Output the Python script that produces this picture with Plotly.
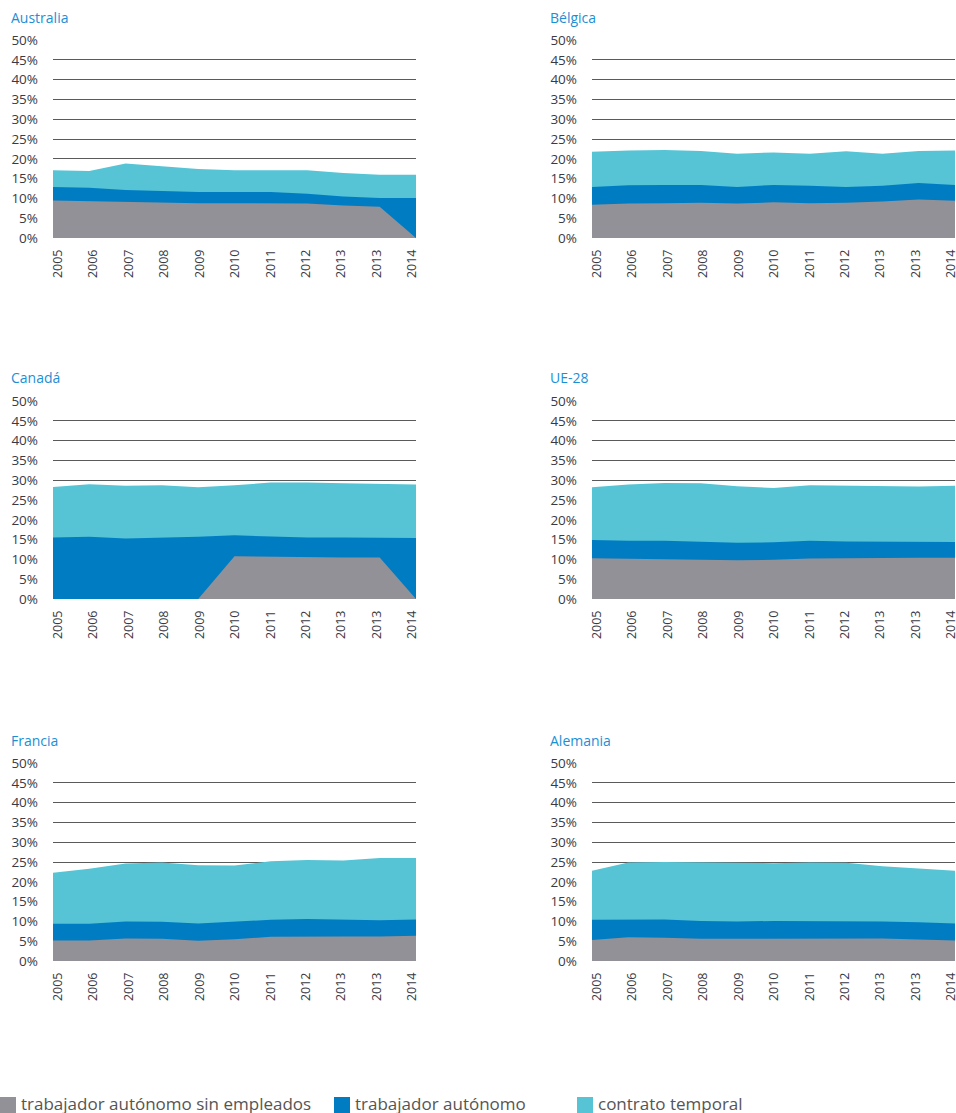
import plotly.graph_objects as go

# categories (the source repeats 2013)
years = ["2005", "2006", "2007", "2008", "2009", "2010", "2011", "2012", "2013", "2013", "2014"]
y_ticks = [0, 5, 10, 15, 20, 25, 30, 35, 40, 45, 50]
y_tick_labels = ["0%", "5%", "10%", "15%", "20%", "25%", "30%", "35%", "40%", "45%", "50%"]

countries = ["Australia", "Bélgica", "Canadá", "UE-28", "Francia", "Alemania"]

# top of each band, in %
temporal = {
    "Australia": [17.1, 16.9, 18.8, 18.1, 17.4, 17.1, 17.1, 17.1, 16.4, 16.0, 16.0],
    "Bélgica":   [21.8, 22.1, 22.2, 22.0, 21.3, 21.6, 21.3, 21.9, 21.3, 22.0, 22.1],
    "Canadá":    [28.3, 29.0, 28.6, 28.7, 28.2, 28.7, 29.4, 29.4, 29.2, 29.0, 28.9],
    "UE-28":     [28.2, 28.9, 29.3, 29.2, 28.5, 28.0, 28.7, 28.6, 28.4, 28.4, 28.6],
    "Francia":   [22.3, 23.3, 24.6, 24.9, 24.2, 24.1, 25.2, 25.5, 25.4, 26.0, 26.0],
    "Alemania":  [22.8, 24.9, 25.0, 24.9, 24.8, 24.7, 24.9, 24.8, 23.9, 23.3, 22.8],
}
autonomo = {
    "Australia": [12.9, 12.7, 12.1, 11.8, 11.6, 11.6, 11.6, 11.2, 10.5, 10.1, 10.1],
    "Bélgica":   [12.9, 13.3, 13.4, 13.4, 12.9, 13.4, 13.2, 12.9, 13.2, 13.9, 13.4],
    "Canadá":    [15.5, 15.7, 15.3, 15.5, 15.7, 16.1, 15.8, 15.5, 15.5, 15.4, 15.4],
    "UE-28":     [14.9, 14.7, 14.7, 14.4, 14.2, 14.3, 14.7, 14.5, 14.5, 14.5, 14.4],
    "Francia":   [9.4, 9.4, 10.0, 9.9, 9.5, 9.9, 10.4, 10.6, 10.5, 10.3, 10.5],
    "Alemania":  [10.4, 10.5, 10.5, 10.1, 10.0, 10.1, 10.1, 10.1, 10.0, 9.8, 9.5],
}
sin_empleados = {
    "Australia": [9.5, 9.3, 9.1, 9.0, 8.8, 8.8, 8.8, 8.7, 8.2, 7.9, 0],
    "Bélgica":   [8.4, 8.7, 8.8, 8.9, 8.7, 9.0, 8.8, 8.9, 9.2, 9.7, 9.4],
    "Canadá":    [0, 0, 0, 0, 0, 10.8, 10.7, 10.5, 10.5, 10.5, 0],
    "UE-28":     [10.3, 10.2, 10.0, 9.9, 9.8, 9.9, 10.2, 10.3, 10.4, 10.4, 10.4],
    "Francia":   [5.2, 5.2, 5.7, 5.6, 5.1, 5.5, 6.1, 6.2, 6.2, 6.2, 6.4],
    "Alemania":  [5.3, 6.0, 5.9, 5.6, 5.6, 5.6, 5.6, 5.7, 5.7, 5.4, 5.2],
}

series_names = ["trabajador autónomo sin empleados", "trabajador autónomo", "contrato temporal"]
colors = ["#929197", "#007cc3", "#56c4d5"]

W, H = 956, 1113
FONT = "Open Sans"

# panel geometry in pixels: (left, right) and (top, bottom)
col_x = [(53, 416), (592, 955)]
row_y = [(40, 238), (401, 599), (763, 961)]
title_pos = [(9, 17), (548, 17), (9, 378), (548, 378), (9, 740), (548, 740)]

fig = go.Figure()
idx = list(range(len(years)))

for i, c in enumerate(countries):
    r, col = divmod(i, 2)
    n = "" if i == 0 else str(i + 1)
    xa, ya = "x" + n, "y" + n
    xl = "x" + str(i + 7)
    for vals, color in [(temporal[c], colors[2]), (autonomo[c], colors[1]), (sin_empleados[c], colors[0])]:
        fig.add_trace(go.Scatter(x=idx, y=vals, mode="lines", fill="tozeroy",
                                 line=dict(width=0, color=color), fillcolor=color,
                                 xaxis=xa, yaxis=ya, showlegend=False, hoverinfo="skip"))
    # empty trace so the label axis gets drawn
    fig.add_trace(go.Scatter(x=idx, y=[None] * len(idx), mode="lines", xaxis=xl, yaxis=ya,
                             showlegend=False, hoverinfo="skip"))
    x0, x1 = col_x[col]
    y0, y1 = row_y[r]
    fig.layout["xaxis" + n] = dict(
        domain=[x0 / W, x1 / W], range=[0, 10], anchor=ya, automargin=False,
        showticklabels=False, showgrid=False, zeroline=False, showline=False, ticks="",
    )
    # year labels sit a little inside the plot ends, as in the source
    fig.layout["xaxis" + str(i + 7)] = dict(
        domain=[x0 / W, x1 / W], overlaying=xa, anchor=ya, range=[-0.14, 10.11],
        automargin=False, tickmode="array", tickvals=idx, ticktext=years, tickangle=-90,
        ticklabeloverflow="allow", showgrid=False, zeroline=False, showline=False,
        ticks="", ticklabelstandoff=8, side="bottom",
        tickfont=dict(family=FONT, size=12.5, color="#3a3a45"),
    )
    fig.layout["yaxis" + n] = dict(
        domain=[1 - y1 / H, 1 - y0 / H], range=[0, 50], anchor=xa, automargin=False,
        tickmode="array", tickvals=y_ticks, ticktext=y_tick_labels, showgrid=True,
        gridcolor="#5a5a5a", gridwidth=1, zeroline=False, showline=False, ticks="",
        ticklabelstandoff=14, tickfont=dict(family=FONT, size=13.5, color="#3a3a45"),
    )
    tx, ty = title_pos[i]
    fig.add_annotation(text=c, xref="paper", yref="paper", x=tx / W, y=1 - ty / H,
                       xanchor="left", yanchor="middle", showarrow=False,
                       font=dict(family=FONT, size=14, color="#1b8fd6"))

# legend drawn as squares + labels
legend_x = [0, 334, 577]
for name, color, lx in zip(series_names, colors, legend_x):
    fig.add_shape(type="rect", xref="paper", yref="paper",
                  x0=lx / W, x1=(lx + 16) / W, y0=0, y1=1 - 1097 / H,
                  fillcolor=color, line=dict(width=0))
    fig.add_annotation(text=name, xref="paper", yref="paper", x=(lx + 19) / W, y=1 - 1103 / H,
                       xanchor="left", yanchor="middle", showarrow=False,
                       font=dict(family=FONT, size=17, color="#555555"))

fig.update_layout(width=W, height=H, margin=dict(l=0, r=0, t=0, b=0, autoexpand=False),
                  paper_bgcolor="white", plot_bgcolor="white", showlegend=False)

fig.write_html("out.html", config={"displayModeBar": False},
               post_script="document.body.style.margin='0';")
